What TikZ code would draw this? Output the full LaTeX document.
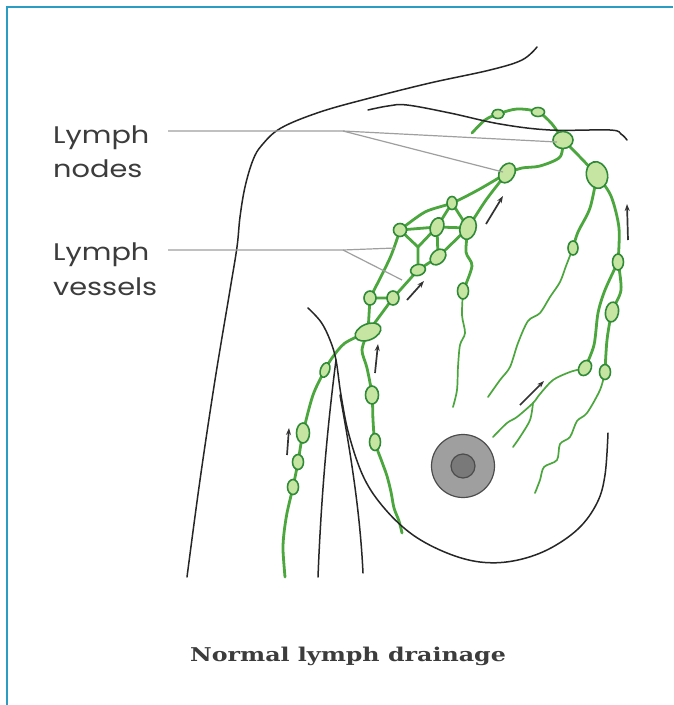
\documentclass[tikz,border=0pt]{standalone}
\usepackage{fontspec}
\setmainfont{DejaVu Serif}
\newfontfamily\labelfont{Poppins}
\usetikzlibrary{shapes.geometric,arrows.meta}
\definecolor{frameblue}{HTML}{2B9CC4}
\definecolor{vesselgreen}{HTML}{4BA63E}
\definecolor{nodeline}{HTML}{2F8A36}
\definecolor{nodefill}{HTML}{C6E4A2}
\definecolor{inkgray}{HTML}{3C3C3C}
\pgfdeclarelayer{paper}
\pgfdeclarelayer{vessels}
\pgfsetlayers{paper,vessels,main}
\begin{document}
\begin{tikzpicture}[x=1pt,y=-1pt,
  body/.style={draw=black!85,line width=1.5pt,line cap=round,line join=round},
  leader/.style={draw=gray!75,line width=1.2pt},
  vessel/.style={draw=vesselgreen,line width=2.8pt,line cap=round,line join=round},
  thinvessel/.style={draw=vesselgreen,line width=1.7pt,line cap=round,line join=round},
  lnode/.style={ellipse,draw=nodeline,fill=nodefill,line width=1.6pt,inner sep=0pt},
  flow/.style={-{Stealth[length=7pt,width=5pt]},line width=1.7pt,draw=black!80},
  label/.style={anchor=base west,inner sep=0pt,text=inkgray,font=\labelfont\fontsize{24}{24}\selectfont},
]
\useasboundingbox (0,0) rectangle (673,705);
\begin{pgfonlayer}{paper}
\fill[white] (0,0) rectangle (673,705);
\end{pgfonlayer}
% frame
\draw[frameblue,line width=2pt] (7,705) -- (7,7) -- (673,7);

% body outline
\draw[body] plot[smooth,tension=0.6] coordinates {(537,47) (522,60) (490,70) (430,83) (370,98) (320,112) (281,128) (262,145) (253,160) (245,187) (240,217) (237,247) (230,290) (215,380) (200,480) (187,577)};
\draw[body] plot[smooth,tension=0.6] coordinates {(368,110) (388,106) (407,105) (450,113) (500,124) (550,130) (610,130) (621,134) (627,140)};
\draw[body] plot[smooth,tension=0.6] coordinates {(308,308) (321,322) (330,340) (336,360) (341,395) (349,435) (364,478) (385,509) (413,535) (447,553) (480,562) (513,561) (547,550) (578,529) (597,503) (605,475) (608,433)};
\draw[body] (336,360) .. controls (327,430) and (321,500) .. (318,577);
\draw[body] (340,395) .. controls (350,450) and (360,510) .. (363,573);

% nipple
\node[circle,draw=black!70,fill=gray!75,line width=1.2pt,minimum size=63pt,inner sep=0pt] (areola) at (463,466) {};
\node[circle,draw=black!70,fill=gray!95!black,line width=1.2pt,minimum size=24pt,inner sep=0pt] (nipple) at (463,466) {};

% lymph nodes
\node[lnode,minimum width=12pt,minimum height=9pt] (t1) at (498,114) {};
\node[lnode,minimum width=13pt,minimum height=9pt] (t2) at (538,112) {};
\node[lnode,minimum width=20pt,minimum height=17pt] (t3) at (563,140) {};
\node[lnode,minimum width=21pt,minimum height=27pt,rotate=15] (t4) at (597,175) {};
\node[lnode,minimum width=11pt,minimum height=16pt] (t5) at (618,262) {};
\node[lnode,minimum width=10pt,minimum height=14pt] (t6) at (573,248) {};
\node[lnode,minimum width=15pt,minimum height=21pt,rotate=-30] (ax) at (507,173) {};
\node[lnode,minimum width=10pt,minimum height=13pt] (C) at (452,203) {};
\node[lnode,minimum width=13pt,minimum height=13pt] (A) at (400,230) {};
\node[lnode,minimum width=13pt,minimum height=19pt,rotate=-20] (B) at (437,227) {};
\node[lnode,minimum width=16pt,minimum height=23pt,rotate=-15] (D) at (468,228) {};
\node[lnode,minimum width=13pt,minimum height=18pt,rotate=-45] (E) at (438,257) {};
\node[lnode,minimum width=15pt,minimum height=11pt,rotate=15] (F) at (418,270) {};
\node[lnode,minimum width=12pt,minimum height=14pt] (G) at (393,298) {};
\node[lnode,minimum width=12pt,minimum height=14pt] (H) at (370,298) {};
\node[lnode,minimum width=27pt,minimum height=16pt,rotate=22] (I) at (368,332) {};
\node[lnode,minimum width=11pt,minimum height=16pt] (J) at (463,291) {};
\node[lnode,minimum width=9pt,minimum height=15pt,rotate=-20] (arm1) at (325,370) {};
\node[lnode,minimum width=13pt,minimum height=20pt] (arm2) at (303,433) {};
\node[lnode,minimum width=11pt,minimum height=15pt] (arm3) at (298,462) {};
\node[lnode,minimum width=11pt,minimum height=15pt] (arm4) at (293,487) {};
\node[lnode,minimum width=13pt,minimum height=18pt] (mid1) at (372,395) {};
\node[lnode,minimum width=11pt,minimum height=17pt] (mid2) at (375,442) {};
\node[lnode,minimum width=13pt,minimum height=20pt,rotate=-10] (r1) at (612,312) {};
\node[lnode,minimum width=11pt,minimum height=15pt] (r2) at (605,372) {};
\node[lnode,minimum width=12pt,minimum height=16pt,rotate=-30] (r3) at (585,368) {};

% vessels behind the nodes
\begin{pgfonlayer}{vessels}
\draw[vessel] plot[smooth] coordinates {(472,133) (485,120) (t1.center) (517,109) (t2.center) (552,124) (t3.center)};
\draw[vessel] plot[smooth] coordinates {(t3.center) (580,157) (t4.center)};
\draw[vessel] plot[smooth] coordinates {(t4.center) (611,196) (619,228) (t5.center)};
\draw[vessel] plot[smooth] coordinates {(t4.center) (590,208) (578,232) (t6.center)};
\draw[vessel] plot[smooth] coordinates {(t3.center) (560,157) (540,166) (522,168) (ax.center)};
\draw[vessel] plot[smooth] coordinates {(ax.center) (478,190) (C.center) (425,212) (A.center)};
\draw[vessel] plot[smooth] coordinates {(ax.center) (486,200) (D.center)};
\draw[vessel] (A.center) -- (B.center) -- (D.center);
\draw[vessel] (C.center) -- (D.center);
\draw[vessel] (C.center) -- (B.center);
\draw[vessel] plot[smooth] coordinates {(A.center) (390,258) (H.center)};
\coordinate (meshj) at (418,247);
\draw[vessel] (A.center) -- (meshj) -- (F.center);
\draw[vessel] (meshj) -- (B.center);
\draw[vessel] (B.center) -- (E.center) -- (F.center) -- (G.center) -- (H.center);
\draw[vessel] (D.center) -- (E.center);
\draw[vessel] (G.center) -- (I.center);
\draw[vessel] (H.center) -- (I.center);
\draw[vessel] plot[smooth] coordinates {(D.center) (466,252) (472,266) (J.center)};
\draw[thinvessel] plot[smooth] coordinates {(J.center) (462,315) (465,333) (460,345) (458,367) (457,390) (453,407)};
\draw[vessel] plot[smooth] coordinates {(I.center) (345,343) (332,358) (arm1.center) (313,395) (arm2.center) (arm3.center) (arm4.center) (287,513) (284,533) (283,550) (285,577)};
\draw[vessel] plot[smooth] coordinates {(I.center) (362,350) (367,368) (mid1.center) (373,420) (mid2.center) (382,462) (387,476) (391,492) (394,508) (399,521) (402,533)};
\draw[vessel] plot[smooth] coordinates {(t5.center) (621,290) (r1.center) (607,340) (r2.center)};
\draw[thinvessel] plot[smooth] coordinates {(r2.center) (600,390) (587,413) (577,421) (570,437) (560,444) (557,460) (544,467) (540,480) (535,493)};
\draw[vessel] plot[smooth] coordinates {(t5.center) (605,290) (598,313) (594,345) (r3.center)};
\draw[thinvessel] plot[smooth] coordinates {(r3.center) (570,372) (553,380) (540,394) (533,403) (517,417) (507,423) (493,437)};
\draw[thinvessel] plot[smooth] coordinates {(533,403) (530,420) (520,437) (513,447)};
\draw[thinvessel] plot[smooth] coordinates {(t6.center) (566,266) (560,282) (550,297) (540,313) (528,321) (518,343) (510,367) (500,380) (488,397)};
\end{pgfonlayer}

% flow arrows
\coordinate (fa1) at (287,455); \coordinate (fb1) at (289,428);
\coordinate (fa2) at (375,373); \coordinate (fb2) at (378,344);
\coordinate (fa3) at (407,300); \coordinate (fb3) at (424,281);
\coordinate (fa4) at (486,224); \coordinate (fb4) at (503,196);
\coordinate (fa5) at (520,405); \coordinate (fb5) at (544,381);
\coordinate (fa6) at (628,240); \coordinate (fb6) at (627,204);
\foreach \i in {1,...,6} \draw[flow] (fa\i) -- (fb\i);

% labels and leader lines
\node[label] (lnodes1) at (53,143) {\scalebox{1.2}[1]{Lymph}};
\node[label] (lnodes2) at (53,177) {\scalebox{1.2}[1]{nodes}};
\node[label] (lves1) at (53,260) {\scalebox{1.2}[1]{Lymph}};
\node[label] (lves2) at (53,295) {\scalebox{1.2}[1]{vessels}};
\coordinate (lead1) at (343,131);
\coordinate (lead2) at (343,250);
\draw[leader] (168,131) -- (lead1) -- (557,142);
\draw[leader] (lead1) -- (503,172);
\draw[leader] (168,250) -- (lead2) -- (395,248);
\draw[leader] (lead2) -- (402,280);

% caption
\node[anchor=base,inner sep=0pt,text=inkgray,font=\bfseries\fontsize{19}{19}\selectfont] (caption) at (348,661) {\scalebox{1.25}[1]{Normal lymph drainage}};
\end{tikzpicture}
\end{document}
